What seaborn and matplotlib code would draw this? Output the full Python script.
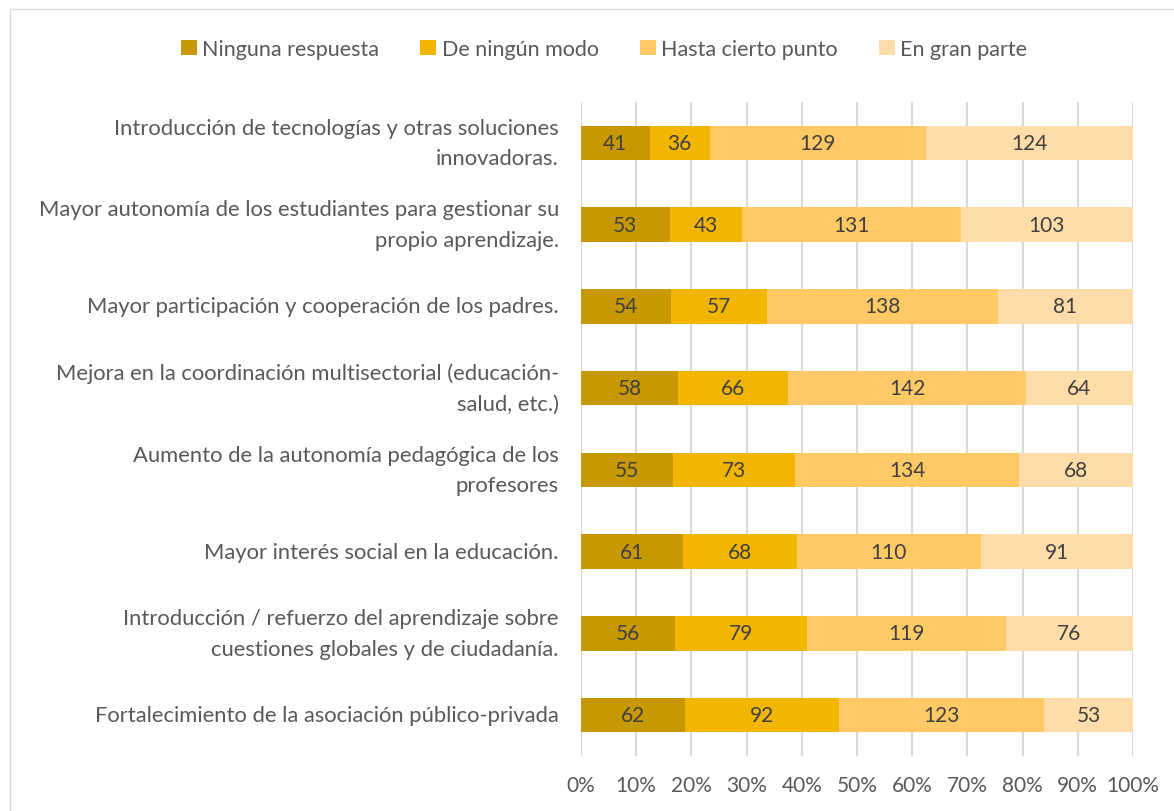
import matplotlib
matplotlib.use("Agg")
import matplotlib.pyplot as plt
import seaborn as sns
import numpy as np
import pandas as pd
from matplotlib.patches import Patch, Rectangle

categories = [
    "Introducción de tecnologías y otras soluciones\ninnovadoras.",
    "Mayor autonomía de los estudiantes para gestionar su\npropio aprendizaje.",
    "Mayor participación y cooperación de los padres.",
    "Mejora en la coordinación multisectorial (educación-\nsalud, etc.)",
    "Aumento de la autonomía pedagógica de los\nprofesores",
    "Mayor interés social en la educación.",
    "Introducción / refuerzo del aprendizaje sobre\ncuestiones globales y de ciudadanía.",
    "Fortalecimiento de la asociación público-privada",
]
series_names = ["Ninguna respuesta", "De ningún modo", "Hasta cierto punto", "En gran parte"]
ninguna = [41, 53, 54, 58, 55, 61, 56, 62]
de_ningun = [36, 43, 57, 66, 73, 68, 79, 92]
hasta = [129, 131, 138, 142, 134, 110, 119, 123]
gran_parte = [124, 103, 81, 64, 68, 91, 76, 53]
tick_labels = ["0%", "10%", "20%", "30%", "40%", "50%", "60%", "70%", "80%", "90%", "100%"]

colors = ["#C89800", "#F2B600", "#FFC966", "#FFDDA9"]

sns.set_theme(style="white")
plt.rcParams["font.family"] = ["Lato", "DejaVu Sans"]

vals = np.array([ninguna, de_ningun, hasta, gran_parte], dtype=float)
totals = vals.sum(axis=0)
pct = vals / totals * 100
cum = np.cumsum(pct, axis=0)

fig = plt.figure(figsize=(11.74, 8.12), dpi=100)
ax = fig.add_axes([581 / 1174, 1 - 757 / 812, (1133 - 581) / 1174, (757 - 103) / 812])

for i in range(3, -1, -1):
    df = pd.DataFrame({"cat": categories, "val": cum[i]})
    sns.barplot(data=df, x="val", y="cat", color=colors[i], width=0.42, ax=ax,
                saturation=1, zorder=2, linewidth=0)

for i in range(4):
    starts = cum[i] - pct[i]
    for j in range(len(categories)):
        ax.text(starts[j] + pct[i][j] / 2, j, f"{int(vals[i][j])}", ha="center", va="center",
                fontsize=15, color="#404040", zorder=3)

ax.set_xlim(0, 100)
ax.set_ylim(7.5, -0.5)
ax.set_xticks(np.arange(0, 101, 10))
ax.set_xticklabels(tick_labels, fontsize=15, color="#595959")
ax.tick_params(axis="x", pad=14, length=0)
ax.tick_params(axis="y", pad=16, length=0)
ax.set_yticklabels(categories, fontsize=15.8, color="#595959", linespacing=1.65)
for lab in ax.get_yticklabels():
    lab.set_ha("right")
    lab.set_va("center")
ax.set_xlabel("")
ax.set_ylabel("")
ax.grid(axis="x", color="#D9D9D9", linewidth=1.5, zorder=0)
ax.set_axisbelow(True)
for s in ax.spines.values():
    s.set_visible(False)

handles = [Patch(facecolor=c, edgecolor="none") for c in colors]
fig.legend(handles, series_names, loc="center", bbox_to_anchor=(604 / 1174, 1 - 50 / 812), ncol=4,
           frameon=False, fontsize=15.5, labelcolor="#595959", handlelength=0.75, handleheight=0.75,
           handletextpad=0.25, columnspacing=1.9)

fig.patches.append(Rectangle((10 / 1174, -0.1), 1.2, 1 - 10 / 812 + 0.1, transform=fig.transFigure,
                             fill=False, edgecolor="#D9D9D9", linewidth=1))

fig.savefig("out.png", dpi=100)
